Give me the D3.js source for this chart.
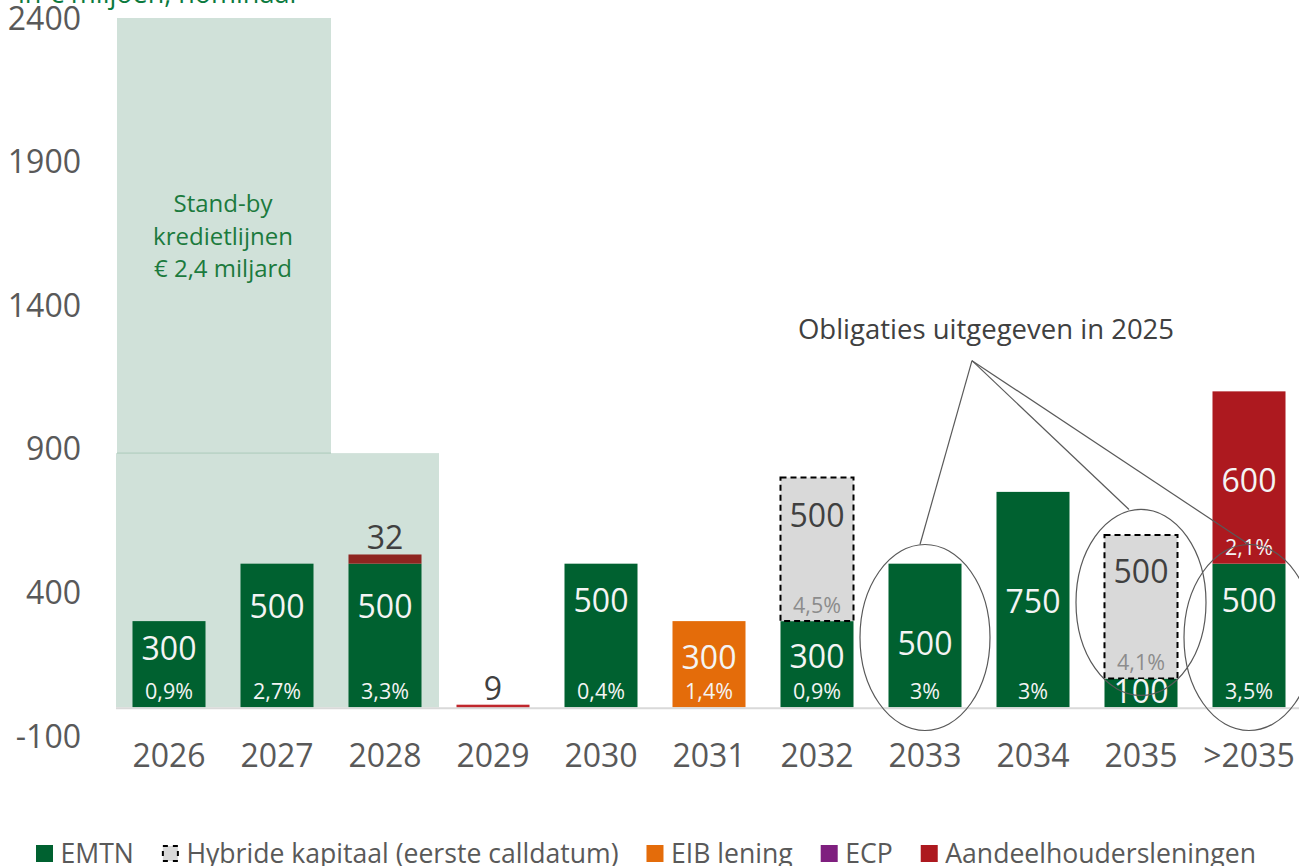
<!DOCTYPE html>
<html>
<head>
<meta charset="utf-8">
<script src="https://cdn.jsdelivr.net/npm/d3@7"></script>
<style>
  html, body { margin: 0; padding: 0; background: #fff; }
  svg { display: block; font-family: "Open Sans", "Noto Sans", sans-serif; }
</style>
</head>
<body>
<div id="chart"></div>
<script>
"use strict";

// categories (maturity years)
const years = ["2026", "2027", "2028", "2029", "2030", "2031", "2032", "2033", "2034", "2035", ">2035"];

// series values, in € miljoen
const emtn      = [300, 500, 500, 0, 500, 0, 300, 500, 750, 100, 500];
const hybride   = [0, 0, 0, 0, 0, 0, 500, 0, 0, 500, 0];
const eib       = [0, 0, 0, 0, 0, 300, 0, 0, 0, 0, 0];
const ecp       = [0, 0, 0, 0, 0, 0, 0, 0, 0, 0, 0];
const aandeel   = [0, 0, 32, 9, 0, 0, 0, 0, 0, 0, 600];

// coupon labels
const emtnPct    = ["0,9%", "2,7%", "3,3%", "", "0,4%", "", "0,9%", "3%", "3%", "", "3,5%"];
const eibPct     = ["", "", "", "", "", "1,4%", "", "", "", "", ""];
const hybridePct = ["", "", "", "", "", "", "4,5%", "", "", "4,1%", ""];
const aandeelPct = ["", "", "", "", "", "", "", "", "", "", "2,1%"];

// stand-by credit lines: 2400 total
const standbyTotal = 2400;
const standbyStep = 885;

const yTicks = [-100, 400, 900, 1400, 1900, 2400];

const series = [
  {key: "EMTN", values: emtn, pct: emtnPct, color: "#006130"},
  {key: "Hybride kapitaal (eerste calldatum)", values: hybride, pct: hybridePct, color: "#d9d9d9", dashed: true},
  {key: "EIB lening", values: eib, pct: eibPct, color: "#e46c0a"},
  {key: "ECP", values: ecp, pct: [], color: "#7f1f7f"},
  {key: "Aandeelhoudersleningen", values: aandeel, pct: aandeelPct, color: "#ad191f"}
];

// where the value labels sit (value units, hand placed like the original)
const labelAt = {
  "EMTN":  [205, 351, 351, null, 372, null, 177, 223, 369, 56, 372],
  "EIB lening": [null, null, null, null, null, 174, null, null, null, null, null],
  "Hybride kapitaal (eerste calldatum)": [null, null, null, null, null, null, 668, null, null, 473, null],
  "Aandeelhoudersleningen": [null, null, "above", "above", null, null, null, null, null, null, 790]
};

// ellipses round the bonds issued in 2025
const circled = [
  {year: "2033", cy: 243},
  {year: "2035", cy: 365},
  {year: ">2035", cy: 243}
];

const width = 1299, height = 866;

const svg = d3.select("#chart").append("svg")
  .attr("width", width).attr("height", height);

const x = d3.scaleBand()
  .domain(years)
  .range([115, 1303])
  .paddingInner(0.324)
  .paddingOuter(0.162);

const y = d3.scaleLinear()
  .domain([-100, 2400])
  .range([736, 18]);

const step = x.step(), bw = x.bandwidth();
const gap = step - bw;

// stand-by background
const bg = svg.append("g");
const left = x.range()[0] + 2;
const tallRight = x("2027") + bw + gap / 2;
bg.append("rect")
  .attr("x", left)
  .attr("y", y(standbyTotal))
  .attr("width", tallRight - left)
  .attr("height", y(standbyStep) - y(standbyTotal))
  .attr("fill", "#d0e1d9");
bg.append("rect")
  .attr("x", left - 1)
  .attr("y", y(standbyStep))
  .attr("width", x("2028") + bw + gap / 2 - left + 1)
  .attr("height", y(0) - y(standbyStep))
  .attr("fill", "#d0e1d9");
bg.append("line")
  .attr("x1", left).attr("x2", tallRight)
  .attr("y1", y(standbyStep)).attr("y2", y(standbyStep))
  .attr("stroke", "#a9c9b9").attr("stroke-width", 1);

const sbText = ["Stand-by", "kredietlijnen", "€ 2,4 miljard"];
bg.append("text")
  .attr("y", 212)
  .attr("text-anchor", "middle")
  .attr("font-size", 24)
  .attr("fill", "#1b7a3d")
  .selectAll("tspan").data(sbText).join("tspan")
  .attr("x", (left + tallRight) / 2 - 1)
  .attr("dy", (d, i) => i === 0 ? 0 : 32.5)
  .text(d => d);

// title (mostly cut off at the top like the original)
svg.append("text")
  .attr("x", 18).attr("y", 3)
  .attr("font-size", 27)
  .attr("fill", "#0b7a3e")
  .text("in € miljoen, nominaal");

// y axis labels
svg.append("g").selectAll("text").data(yTicks).join("text")
  .attr("x", 81)
  .attr("y", d => y(d))
  .attr("dy", "0.36em")
  .attr("text-anchor", "end")
  .attr("font-size", 32)
  .attr("fill", "#595959")
  .text(d => d);

// stacked bars
const stackData = years.map((yr, i) => {
  const row = {year: yr};
  series.forEach(s => row[s.key] = s.values[i]);
  return row;
});
const stack = d3.stack().keys(series.map(s => s.key))(stackData);

const barsG = svg.append("g");
stack.forEach((layer, li) => {
  const s = series[li];
  layer.forEach((d, i) => {
    if (d[1] - d[0] <= 0) return;
    let fill = s.color;
    if (s.key === "Aandeelhoudersleningen" && years[i] === "2028") fill = "#8e2520";
    if (s.key === "Aandeelhoudersleningen" && years[i] === "2029") fill = "#c0272d";
    const r = barsG.append("rect")
      .attr("x", x(years[i]))
      .attr("y", y(d[1]))
      .attr("width", bw)
      .attr("height", Math.max(y(d[0]) - y(d[1]), 3))
      .attr("fill", fill);
    if (s.dashed) {
      r.attr("stroke", "#000").attr("stroke-width", 2).attr("stroke-dasharray", "6,4");
    }
  });
});

// baseline
svg.append("line")
  .attr("x1", 116).attr("x2", width)
  .attr("y1", y(0) + 1).attr("y2", y(0) + 1)
  .attr("stroke", "#d9d9d9").attr("stroke-width", 2);

// labels
const labG = svg.append("g");
stack.forEach((layer, li) => {
  const s = series[li];
  layer.forEach((d, i) => {
    const v = s.values[i];
    if (!v) return;
    const cx = x(years[i]) + bw / 2;
    const pos = labelAt[s.key] ? labelAt[s.key][i] : null;
    const onGrey = s.dashed;
    if (pos === "above") {
      labG.append("text")
        .attr("x", cx).attr("y", y(d[1]) - 5)
        .attr("text-anchor", "middle")
        .attr("font-size", 32).attr("fill", "#404040")
        .text(v);
    } else if (pos !== null && pos !== undefined) {
      labG.append("text")
        .attr("x", cx).attr("y", y(pos))
        .attr("dy", "0.36em")
        .attr("text-anchor", "middle")
        .attr("font-size", 32)
        .attr("fill", onGrey ? "#404040" : "#f4f4f4")
        .text(v);
    }
    const p = s.pct[i];
    if (p) {
      labG.append("text")
        .attr("x", cx).attr("y", y(d[0]) - 16)
        .attr("dy", "0.36em")
        .attr("text-anchor", "middle")
        .attr("font-size", 21.5)
        .attr("fill", onGrey ? "#8c8c8c" : "#f4f4f4")
        .text(p);
    }
  });
});

// x axis labels
svg.append("g").selectAll("text").data(years).join("text")
  .attr("x", d => x(d) + bw / 2)
  .attr("y", 755)
  .attr("dy", "0.36em")
  .attr("text-anchor", "middle")
  .attr("font-size", 32)
  .attr("fill", "#595959")
  .text(d => d);

// annotation
const annG = svg.append("g");
const anchor = {x: x("2033") + bw / 2 + 47, y: y(1207)};
circled.forEach(c => {
  const cx = x(c.year) + bw / 2;
  const cy = y(c.cy);
  annG.append("ellipse")
    .attr("cx", cx).attr("cy", cy)
    .attr("rx", 65).attr("ry", 93)
    .attr("fill", "none")
    .attr("stroke", "#595959").attr("stroke-width", 1.2);
  annG.append("line")
    .attr("x1", anchor.x).attr("y1", anchor.y)
    .attr("x2", cx - (c.year === "2033" ? 5 : (c.year === "2035" ? 12 : 0)))
    .attr("y2", cy - 93)
    .attr("stroke", "#595959").attr("stroke-width", 1.2);
});
annG.append("text")
  .attr("x", 986).attr("y", y(1318))
  .attr("dy", "0.36em")
  .attr("text-anchor", "middle")
  .attr("font-size", 27.5)
  .attr("fill", "#404040")
  .text("Obligaties uitgegeven in 2025");

// legend
const leg = svg.append("g").attr("transform", "translate(36, 853)");
let lx = 0;
series.forEach(s => {
  const g = leg.append("g").attr("transform", `translate(${lx},0)`);
  if (s.dashed) {
    g.append("rect").attr("x", 1).attr("y", -7).attr("width", 15).attr("height", 15)
      .attr("fill", s.color).attr("stroke", "#000").attr("stroke-width", 2)
      .attr("stroke-dasharray", "5,5");
  } else {
    g.append("rect").attr("x", 0).attr("y", -8).attr("width", 17).attr("height", 17)
      .attr("fill", s.color);
  }
  const t = g.append("text")
    .attr("x", 24.5).attr("y", 0)
    .attr("dy", "0.36em")
    .attr("font-size", 26.6)
    .attr("fill", "#595959")
    .text(s.key);
  lx += 24.5 + t.node().getComputedTextLength() + 28;
});
</script>
</body>
</html>
